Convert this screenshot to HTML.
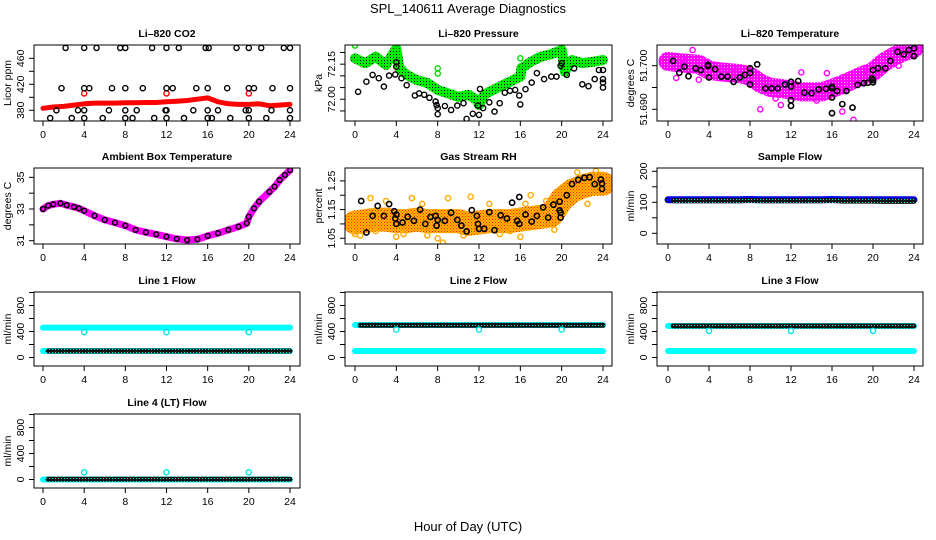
<!DOCTYPE html>
<html><head><meta charset="utf-8"><style>
html,body{margin:0;padding:0;background:#fff;}
svg{display:block;font-family:"Liberation Sans",Arial,sans-serif;}
</style></head><body>
<svg id="chart" width="936" height="540" viewBox="0 0 936 540" xmlns="http://www.w3.org/2000/svg">
<defs>
<pattern id="greenDots" width="3" height="3" patternUnits="userSpaceOnUse"><rect width="3" height="3" fill="#00ee00"/><rect width="1" height="1" fill="#000"/></pattern>
<pattern id="magentaDots" width="3" height="3" patternUnits="userSpaceOnUse"><rect width="3" height="3" fill="#ff00ff"/><rect x="1" y="1" width="1" height="1" fill="#ffb0ff"/></pattern>
<pattern id="rhDots" width="3" height="3" patternUnits="userSpaceOnUse"><rect width="3" height="3" fill="#ffb400"/><rect width="1" height="1" fill="#ff2000"/><rect x="1.5" y="1.5" width="1" height="1" fill="#ff5000"/></pattern>
<pattern id="blueDots" width="3" height="3" patternUnits="userSpaceOnUse"><rect width="3" height="3" fill="#0000ee"/><rect width="1" height="1" fill="#000"/></pattern>
<pattern id="blackCyan" width="3" height="3" patternUnits="userSpaceOnUse"><rect width="3" height="3" fill="#111"/><rect x="1" y="1" width="1" height="1" fill="#00e0e0"/></pattern>
</defs>
<text x="468" y="13" text-anchor="middle" font-size="13">SPL_140611  Average Diagnostics</text>
<text x="468" y="531" text-anchor="middle" font-size="13">Hour of Day (UTC)</text>
</svg>
<script>
// ---------- data ----------
const co2RedHours=[0,1,2,3,4,5,6,7,8,9,10,11,12,13,14,15,16,17,18,19,20,21,22,23,24];
const co2RedVals=[383,385,386,388,390,391,391,391,391.5,391.5,392,392,393,394,395,397,399,393,390,389,389,390,387,388,389];
const co2RedOutHours=[4,12,20];
const co2RedOutVals=[406,406,406];
const co2BlkHours=[2.2,4,5.2,7.5,8,10.6,12,13.2,15.8,16.1,18.8,20,21.2,23.4,24,
 1.8,4,4.5,6.7,8,9.7,12,12.6,14.9,16,17.9,20,20.5,22.3,24,
 1.3,3.4,4,6.4,8,9.1,11.9,12,14.6,16,17,19.7,20,22.2,24,
 0.7,2.8,4,5.8,8,8.7,10.8,12,13.7,16,16.4,18.2,20,21.7,24];
const co2BlkVals=[476,476,476,476,476,476,476,476,476,476,476,476,476,476,476,
 414,414,414,414,414,414,414,414,414,414,414,414,414,414,414,
 380,380,380,380,380,380,380,380,380,380,380,380,380,380,380,
 368,368,368,368,368,368,368,368,368,368,368,368,368,368,368];

const presGreenHours=[0,1,2,3,4,4.3,5,6,7,8,9,10,11,11.8,12,12.5,13,14,15,16,16.1,17,18,19,20,20.3,21,22,23,24];
const presGreenVals=[72.175,72.154,72.182,72.147,72.217,72.132,72.104,72.082,72.070,72.040,72.025,72.010,72.019,71.997,71.975,72.019,72.032,72.054,72.075,72.097,72.132,72.160,72.182,72.193,72.210,72.118,72.168,72.154,72.160,72.168];
const presGreenOutHours=[0,0,4,8,8,16,16,20];
const presGreenOutVals=[72.230,72.175,72.230,72.132,72.110,72.175,72.140,72.230];
const presBlkHours=[0.3,1.1,1.7,2.3,2.8,3.3,3.9,4,4,4.5,5.0,5.8,6.2,6.7,7.2,7.8,7.9,8,8,8.7,9.3,9.9,10.5,10.8,11.4,11.9,12,12.1,12.4,13.0,13.5,14.0,14.5,15.0,15.5,15.9,16,16.5,17.1,17.6,18.3,19,19.5,19.9,20,20.5,21.2,22,22.6,23.2,23.6,24,24,24,24];
const presBlkVals=[72.032,72.075,72.104,72.090,72.054,72.101,72.106,72.139,72.158,72.090,72.060,72.016,72.025,72.019,72.006,71.990,71.975,71.962,71.936,71.971,71.954,71.973,71.983,71.916,71.938,71.973,71.933,72.044,71.962,71.987,71.947,71.983,72.028,72.036,72.040,72.016,71.978,72.043,72.071,72.112,72.086,72.097,72.097,72.143,72.154,72.104,72.132,72.064,72.056,72.086,72.125,72.125,72.086,72.071,72.050];

const tempBandHours=[0,1,2,3,4,5,6,7,8,9,10,11,12,13,14,15,16,17,18,19,20,21,22,23,24];
const tempBandVals=[51.7010,51.7007,51.7005,51.7003,51.6990,51.6986,51.6984,51.6982,51.6976,51.6960,51.6950,51.6948,51.6944,51.6940,51.6940,51.6940,51.6948,51.6957,51.6967,51.6978,51.6986,51.7007,51.7021,51.7032,51.7040];
const tempOutHours=[0.8,2.4,3.0,5.2,9.0,11.0,13.0,15.5,17.0,18.1,19.5,22.5,1.5,6.5,10.5,14.5];
const tempOutVals=[51.6972,51.7036,51.6968,51.6988,51.6900,51.6910,51.6985,51.6983,51.6895,51.6876,51.6985,51.7000,51.7015,51.6995,51.6925,51.6920];
const tempBlkHours=[0.5,1.1,1.6,2.0,2.7,3.2,3.9,3.9,4.0,4.6,5.2,5.8,6.4,7.0,7.5,8.0,8.0,8.0,8.7,9.5,10.1,10.7,11.4,12,12,12,12,12.7,13.3,14,14.7,15.4,16,16,16,16,16.5,17,17.4,18,18.5,19.1,19.5,19.9,20,20,20,20.5,21.2,21.7,22.4,23,23.5,24,24,24];
const tempBlkVals=[51.7011,51.6984,51.6998,51.6976,51.6994,51.6990,51.7002,51.6999,51.6973,51.6992,51.6975,51.6975,51.6963,51.6973,51.6979,51.6994,51.6983,51.6957,51.7003,51.6948,51.6948,51.6948,51.6957,51.6963,51.6952,51.6921,51.6908,51.6965,51.6938,51.6937,51.6946,51.6947,51.6927,51.6948,51.6952,51.6891,51.6942,51.6912,51.6942,51.6904,51.6956,51.6960,51.6961,51.6971,51.6967,51.6962,51.6990,51.6994,51.6994,51.7011,51.7032,51.7026,51.7036,51.7040,51.7022,51.7022];

const ambHours=[0,0.5,1,1.7,2.3,3,3.5,4,5,6,7,8,9,10,11,12,13,14,15,16,17,18,19,19.8,20,20.5,21,22,22.5,23,23.5,24];
const ambVals=[33.0,33.21,33.30,33.36,33.25,33.13,33.04,32.89,32.58,32.31,32.14,31.95,31.68,31.53,31.40,31.25,31.11,31.04,31.09,31.30,31.47,31.68,31.88,32.10,32.51,33.04,33.46,34.09,34.41,34.83,35.15,35.46];

const rhBandHours=[0,1,2,3,4,5,6,7,8,9,10,11,12,13,14,15,16,17,18,19,20,21,22,23,24];
const rhBandVals=[1.105,1.11,1.115,1.115,1.11,1.11,1.115,1.11,1.11,1.11,1.11,1.10,1.105,1.11,1.11,1.11,1.115,1.12,1.125,1.13,1.185,1.215,1.23,1.24,1.24];
const rhOutHours=[0,0.5,1.5,2,3,4,4.7,5.5,6.5,7,8,8.5,9,10.5,11.2,13,14,15,16,16.5,17,18.5,19.3,20.2,21.5,22.5,23.3];
const rhOutVals=[1.065,1.060,1.190,1.075,1.180,1.055,1.065,1.190,1.170,1.060,1.050,1.035,1.190,1.060,1.195,1.170,1.065,1.075,1.055,1.170,1.200,1.180,1.080,1.140,1.280,1.170,1.285];
const rhBlkHours=[0.6,1.1,1.7,2.2,2.8,3.3,3.8,3.9,4,4,4.6,5.1,5.7,6.3,6.8,7.3,7.8,7.9,8,8.7,9.3,9.9,10.3,10.8,11.3,11.8,11.9,12,12.5,13,13.5,14.1,14.7,15.2,15.7,15.9,15.9,16.5,17.1,17.6,18.2,18.7,19.2,19.8,19.8,19.9,19.9,20.5,21.0,21.6,22.2,22.7,23.2,23.8,23.9,23.9];
const rhBlkVals=[1.180,1.070,1.128,1.163,1.128,1.169,1.144,1.119,1.100,1.133,1.105,1.125,1.111,1.150,1.100,1.124,1.128,1.094,1.114,1.111,1.139,1.114,1.094,1.074,1.148,1.128,1.100,1.083,1.083,1.141,1.078,1.130,1.119,1.174,1.111,1.100,1.194,1.133,1.108,1.128,1.158,1.122,1.167,1.178,1.147,1.139,1.122,1.200,1.239,1.254,1.261,1.263,1.239,1.255,1.241,1.222];

const flowHours=[0,1,2,3,4,5,6,7,8,9,10,11,12,13,14,15,16,17,18,19,20,21,22,23,24];
const blkFlowHours=[0.5,1,2,3,4,5,6,7,8,9,10,11,12,13,14,15,16,17,18,19,20,21,22,23,24];
const sampleBlue=[108,108,108,108,108,108,108,108,109,108,108,108,108,108,108,108,109,108,108,108,108,108,108,108,108];
const sampleBlack=[105,105,105,105,105,105,105,105,106,105,105,105,105,105,105,105,106,104,104,104,104,103,103,103,103];
const line1CyanTop=[460,460,460,460,460,460,460,460,460,460,460,460,460,460,460,460,460,460,460,460,460,460,460,460,460];
const line1CyanLow=[100,100,100,100,100,100,100,100,100,100,100,100,100,100,100,100,100,100,100,100,100,100,100,100,100];
const line1Black=[100,100,100,100,100,100,100,100,100,100,100,100,100,100,100,100,100,100,100,100,100,100,100,100,100];
const line2CyanTop=[500,500,500,500,500,500,500,500,500,500,500,500,500,500,500,500,500,500,500,500,500,500,500,500,500];
const line2CyanLow=[100,100,100,100,100,100,100,100,100,100,100,100,100,100,100,100,100,100,100,100,100,100,100,100,100];
const line2Black=[495,495,495,495,495,495,495,495,495,495,495,495,495,495,495,495,495,495,495,495,495,495,495,495,495];
const line3CyanTop=[485,485,485,485,485,485,485,485,485,485,485,485,485,485,485,485,485,485,485,485,485,485,485,485,485];
const line3CyanLow=[100,100,100,100,100,100,100,100,100,100,100,100,100,100,100,100,100,100,100,100,100,100,100,100,100];
const line3Black=[485,485,485,485,485,485,485,485,485,485,485,485,485,485,485,485,485,485,485,485,485,485,485,485,485];
const line4Cyan=[0,0,0,0,0,0,0,0,0,0,0,0,0,0,0,0,0,0,0,0,0,0,0,0,0];
const line4Black=[5,5,5,5,5,5,5,5,5,5,5,5,5,5,5,5,5,5,5,5,5,5,5,5,5];
const dipHours=[4,12,20];
const line1Dips=[390,390,390];
const line2Dips=[430,430,430];
const line3Dips=[410,410,410];
const line4Spikes=[110,110,110];
const xTicks=[0,4,8,12,16,20,24];

// ---------- layout ----------
const NS='http://www.w3.org/2000/svg';
const svg=document.getElementById('chart');
const cols=[{l:34,r:300,x0:43,x24:290},{l:345,r:612,x0:355,x24:603},{l:657,r:923,x0:668,x24:914}];
const rows=[{t:45,b:121},{t:168,b:244},{t:292,b:366},{t:414,b:488}];

function mk(tag,attrs,parent){const e=document.createElementNS(NS,tag);for(const k in attrs)e.setAttribute(k,attrs[k]);(parent||svg).appendChild(e);return e;}

function panel(ci,ri,title,ylab,ymin,ymax,ticks,labels,key){
  const c=cols[ci],r=rows[ri];
  const g=mk('g',{});
  
  
  const sx=h=>c.x0+h*(c.x24-c.x0)/24;
  const sy=v=>r.b-(v-ymin)/(ymax-ymin)*(r.b-r.t);
  const t=mk('text',{x:(c.l+c.r)/2,y:r.t-8,'text-anchor':'middle','font-size':'10.5','font-weight':'bold'},g);
  t.textContent=title;
  
  
  const yl=mk('text',{x:c.l-26,y:(r.t+r.b)/2,'text-anchor':'middle','font-size':'10.5','dominant-baseline':'central',transform:`rotate(-90 ${c.l-26} ${(r.t+r.b)/2})`},g);
  yl.textContent=ylab;
  
  
  xTicks.forEach(h=>{
    const x=sx(h);
    const tk=mk('line',{x1:x,x2:x,y1:r.b,y2:r.b+5,stroke:'#000','stroke-width':1},g);
    
    
    const lb=mk('text',{x:x,y:r.b+17,'text-anchor':'middle','font-size':'10.5'},g);
    lb.textContent=h;
    
    
  });
  ticks.forEach(v=>{
    const y=sy(v);
    const tk=mk('line',{x1:c.l-5,x2:c.l,y1:y,y2:y,stroke:'#000','stroke-width':1},g);
    
    
  });
  labels.forEach(v=>{
    const y=sy(v);
    const s=typeof v==='number'&&ymax-ymin<1?v.toFixed(ymax-ymin<0.05?3:2):String(v);
    const lb=mk('text',{x:c.l-13,y:y,'text-anchor':'middle','font-size':'10.5','dominant-baseline':'central',transform:`rotate(-90 ${c.l-13} ${y})`},g);
    lb.textContent=s;
    
    
  });
  const clip=mk('clipPath',{id:'clip-'+key},g);
  mk('rect',{x:c.l,y:r.t,width:c.r-c.l,height:r.b-r.t},clip);
  const plot=mk('g',{'clip-path':`url(#clip-${key})`},g);
  
  
  const box=mk('rect',{x:c.l,y:r.t,width:c.r-c.l,height:r.b-r.t,fill:'none',stroke:'#000','stroke-width':1},g);
  
  
  return {sx,sy,plot};
}
function band(P,hours,vals,w,paint,name){
  const d=hours.map((h,i)=>(i?'L':'M')+P.sx(h).toFixed(1)+' '+P.sy(vals[i]).toFixed(1)).join(' ');
  const p=mk('path',{d:d,fill:'none',stroke:paint,'stroke-width':w,'stroke-linecap':'round','stroke-linejoin':'round'},P.plot);
  
  
}
function pts(P,hours,vals,color,name,rr,sw){
  hours.forEach((h,i)=>{
    const e=mk('circle',{cx:P.sx(h).toFixed(1),cy:P.sy(vals[i]).toFixed(1),r:rr||2.6,fill:'none',stroke:color,'stroke-width':sw||1.4},P.plot);
    
    
  });
}

// CO2
let P=panel(0,0,'Li\u2013820 CO2','Licor ppm',363.5,480.5,[380,400,420,440,460],[380,420,460],'co2');
band(P,co2RedHours,co2RedVals,5,'#ff0000','co2-red-series');
pts(P,co2RedOutHours,co2RedOutVals,'#ff0000','co2-red-point');
pts(P,co2BlkHours,co2BlkVals,'#000','co2-black-point');
// Pressure
P=panel(1,0,'Li\u2013820 Pressure','kPa',71.907,72.232,[71.95,72.0,72.05,72.1,72.15,72.2],[72.0,72.15],'pressure');
band(P,presGreenHours,presGreenVals,10,'url(#greenDots)','pressure-green-series');
pts(P,presGreenOutHours,presGreenOutVals,'#00dd00','pressure-green-point');
pts(P,presBlkHours,presBlkVals,'#000','pressure-black-point');
// Temperature
P=panel(2,0,'Li\u2013820 Temperature','degrees C',51.68732,51.70475,[51.69,51.695,51.70],[51.69,51.70],'temperature');
band(P,tempBandHours,tempBandVals,19,'url(#magentaDots)','temperature-magenta-series');
pts(P,tempOutHours,tempOutVals,'#ff00ff','temperature-magenta-point');
pts(P,tempBlkHours,tempBlkVals,'#000','temperature-black-point',2.6,1.6);
// Ambient
P=panel(0,1,'Ambient Box Temperature','degrees C',30.79,35.59,[31,32,33,34,35],[31,33,35],'ambient');
band(P,ambHours,ambVals,7,'#ff00ff','ambient-magenta-series');
pts(P,ambHours,ambVals,'#000','ambient-black-point',2.4,1.5);
// RH
P=panel(1,1,'Gas Stream RH','percent',1.030,1.295,[1.05,1.10,1.15,1.20,1.25],[1.05,1.15,1.25],'rh');
band(P,rhBandHours,rhBandVals,24,'url(#rhDots)','rh-orange-series');
pts(P,rhOutHours,rhOutVals,'#ffaa00','rh-orange-point');
pts(P,rhBlkHours,rhBlkVals,'#000','rh-black-point',2.6,1.6);
// Sample flow
P=panel(2,1,'Sample Flow','ml/min',-34.5,210.6,[0,50,100,150,200],[0,100,200],'sample-flow');
band(P,flowHours,sampleBlue,7,'url(#blueDots)','sample-flow-blue-series');
band(P,blkFlowHours,sampleBlack,5,'url(#blackCyan)','sample-flow-black-series');
// Flow panels
const fT=[0,200,400,600,800,1000],fL=[0,400,800];
P=panel(0,2,'Line 1 Flow','ml/min',-131,1008,fT,fL,'line1-flow');
band(P,flowHours,line1CyanTop,6,'#00ffff','line1-cyan-top-series');
band(P,flowHours,line1CyanLow,6,'#00ffff','line1-cyan-low-series');
band(P,blkFlowHours,line1Black,5,'url(#blackCyan)','line1-black-series');
pts(P,dipHours,line1Dips,'#00e5e5','line1-cyan-point');
P=panel(1,2,'Line 2 Flow','ml/min',-131,1008,fT,fL,'line2-flow');
band(P,flowHours,line2CyanTop,6,'#00ffff','line2-cyan-top-series');
band(P,flowHours,line2CyanLow,6,'#00ffff','line2-cyan-low-series');
band(P,blkFlowHours,line2Black,5,'url(#blackCyan)','line2-black-series');
pts(P,dipHours,line2Dips,'#00e5e5','line2-cyan-point');
P=panel(2,2,'Line 3 Flow','ml/min',-131,1008,fT,fL,'line3-flow');
band(P,flowHours,line3CyanTop,6,'#00ffff','line3-cyan-top-series');
band(P,flowHours,line3CyanLow,6,'#00ffff','line3-cyan-low-series');
band(P,blkFlowHours,line3Black,5,'url(#blackCyan)','line3-black-series');
pts(P,dipHours,line3Dips,'#00e5e5','line3-cyan-point');
P=panel(0,3,'Line 4 (LT) Flow','ml/min',-131,1008,fT,fL,'line4-flow');
band(P,flowHours,line4Cyan,6,'#00ffff','line4-cyan-series');
band(P,blkFlowHours,line4Black,5,'url(#blackCyan)','line4-black-series');
pts(P,dipHours,line4Spikes,'#00e5e5','line4-cyan-point');
</script>
</body></html>
